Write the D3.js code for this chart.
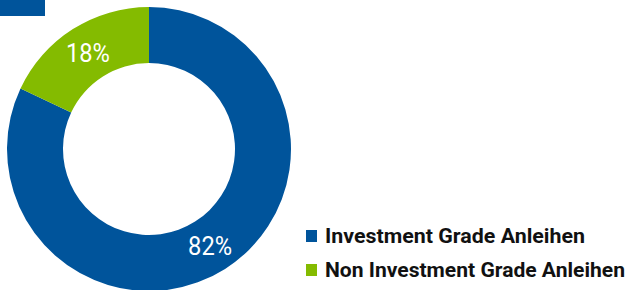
<!DOCTYPE html>
<html>
<head>
<meta charset="utf-8">
<script src="https://cdn.jsdelivr.net/npm/d3@7"></script>
<style>
  body { margin: 0; background: #fff; }
  svg { display: block; }
</style>
</head>
<body>
<svg width="633" height="290"></svg>
<script>
const categories = ['Investment Grade Anleihen', 'Non Investment Grade Anleihen'];
const values = [82, 18];
const labels = ['82%', '18%'];
const colors = ['#00549b', '#84bb00'];

const svg = d3.select('svg');
const cx = 149, cy = 149;
const outerR = 142, innerR = 86;

// small blue tab top left
svg.append('rect')
  .attr('x', 0).attr('y', 0)
  .attr('width', 45).attr('height', 16)
  .attr('fill', colors[0]);

const pie = d3.pie().sort(null).value(d => d);
const arc = d3.arc().innerRadius(innerR).outerRadius(outerR);

const g = svg.append('g').attr('transform', `translate(${cx},${cy})`);

const arcs = pie(values);
g.selectAll('path')
  .data(arcs)
  .enter().append('path')
    .attr('d', arc)
    .attr('fill', (d, i) => colors[i]);

// narrow looking labels: squeeze roboto a bit
g.selectAll('text')
  .data(arcs)
  .enter().append('text')
    .attr('transform', d => `translate(${arc.centroid(d)})`)
    .attr('x', -22)
    .attr('dy', '0.36em')
    .attr('fill', '#fff')
    .attr('textLength', 44)
    .attr('lengthAdjust', 'spacingAndGlyphs')
    .style('font-family', 'Roboto, sans-serif')
    .style('font-size', '26px')
    .text((d, i) => labels[i]);

// legend
const legend = svg.append('g').attr('transform', 'translate(306,230)');
const rows = legend.selectAll('g')
  .data(categories)
  .enter().append('g')
    .attr('transform', (d, i) => `translate(0,${i * 34})`);

rows.append('rect')
  .attr('width', 11).attr('height', 12)
  .attr('fill', (d, i) => colors[i]);

const textWidths = [260, 300];
rows.append('text')
  .attr('x', 19)
  .attr('y', 13)
  .attr('fill', '#111')
  .attr('textLength', (d, i) => textWidths[i])
  .attr('lengthAdjust', 'spacingAndGlyphs')
  .style('font-family', 'Roboto, sans-serif')
  .style('font-size', '21px')
  .style('font-weight', 'bold')
  .text(d => d);
</script>
</body>
</html>
